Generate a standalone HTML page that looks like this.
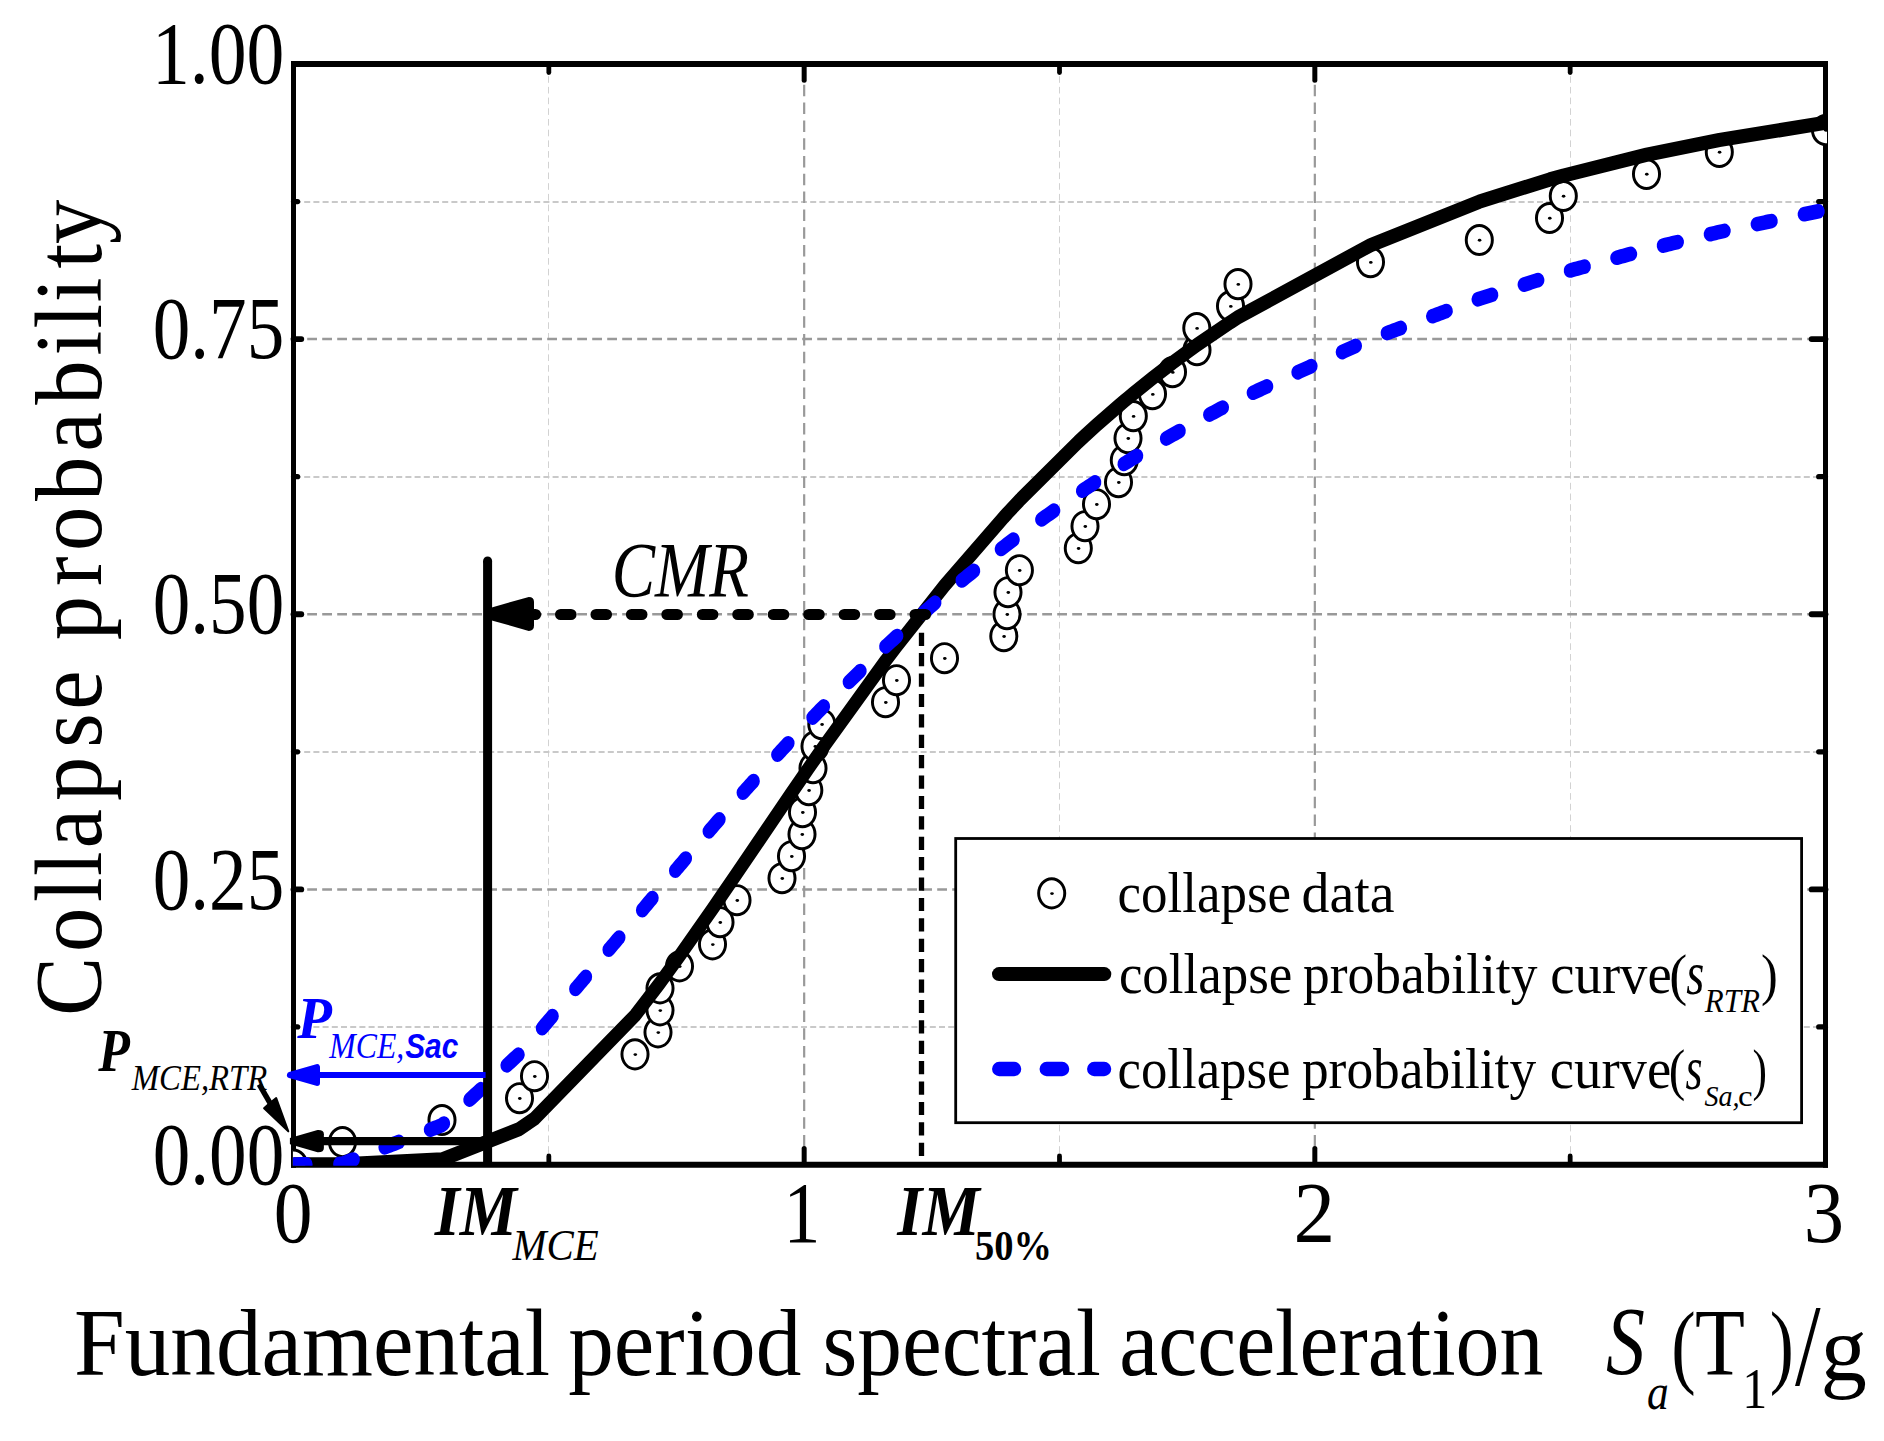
<!DOCTYPE html>
<html lang="en"><head><meta charset="utf-8"><title>Collapse fragility curves</title>
<style>html,body{margin:0;padding:0;background:#fff}body{width:1884px;height:1441px;overflow:hidden}</style></head>
<body>
<svg width="1884" height="1441" viewBox="0 0 1884 1441" style="display:block">
<rect width="1884" height="1441" fill="#fff"/>
<defs><clipPath id="plotclip"><rect x="292.9" y="62.4" width="1534.1" height="1103.3999999999999"/></clipPath><clipPath id="curveclip"><rect x="292.9" y="62.4" width="1534.1" height="1103.3999999999999"/></clipPath></defs>
<g fill="none" stroke-linecap="butt">
<line x1="548.5" y1="67.0" x2="548.5" y2="1161.6" stroke="#d2d2d2" stroke-width="1" stroke-dasharray="6.6 4.1" stroke-dashoffset="1.5"/>
<line x1="1059.5" y1="67.0" x2="1059.5" y2="1161.6" stroke="#d2d2d2" stroke-width="1" stroke-dasharray="6.6 4.1" stroke-dashoffset="1.5"/>
<line x1="1570.5" y1="67.0" x2="1570.5" y2="1161.6" stroke="#d2d2d2" stroke-width="1" stroke-dasharray="6.6 4.1" stroke-dashoffset="1.5"/>
<line x1="296.0" y1="202" x2="1823.0" y2="202" stroke="#c9c9c9" stroke-width="2" stroke-dasharray="6 3.2" stroke-dashoffset="1"/>
<line x1="296.0" y1="477" x2="1823.0" y2="477" stroke="#c9c9c9" stroke-width="2" stroke-dasharray="6 3.2" stroke-dashoffset="1"/>
<line x1="296.0" y1="752" x2="1823.0" y2="752" stroke="#c9c9c9" stroke-width="2" stroke-dasharray="6 3.2" stroke-dashoffset="1"/>
<line x1="296.0" y1="1027" x2="1823.0" y2="1027" stroke="#c9c9c9" stroke-width="2" stroke-dasharray="6 3.2" stroke-dashoffset="1"/>
<line x1="804.17" y1="67.0" x2="804.17" y2="1161.6" stroke="#999" stroke-width="2.2" stroke-dasharray="11.5 6.3" stroke-dashoffset="0"/>
<line x1="1314.83" y1="67.0" x2="1314.83" y2="1161.6" stroke="#999" stroke-width="2.2" stroke-dasharray="11.5 6.3" stroke-dashoffset="0"/>
<line x1="296.0" y1="889.38" x2="1823.0" y2="889.38" stroke="#999" stroke-width="2.5" stroke-dasharray="9.8 5.2" stroke-dashoffset="3.8"/>
<line x1="296.0" y1="614.25" x2="1823.0" y2="614.25" stroke="#999" stroke-width="2.5" stroke-dasharray="9.8 5.2" stroke-dashoffset="3.8"/>
<line x1="296.0" y1="339.12" x2="1823.0" y2="339.12" stroke="#999" stroke-width="2.5" stroke-dasharray="9.8 5.2" stroke-dashoffset="3.8"/>
</g>
<g stroke="#000" fill="none" stroke-linecap="butt">
<line x1="291.0" y1="64.0" x2="1828.0" y2="64.0" stroke-width="6"/>
<line x1="291.0" y1="1164.8" x2="1828.0" y2="1164.8" stroke-width="6"/>
<line x1="293.5" y1="61.0" x2="293.5" y2="1167.8" stroke-width="5"/>
<line x1="1825.5" y1="61.0" x2="1825.5" y2="1167.8" stroke-width="5"/>
<g stroke-linecap="round">
<line x1="804.17" y1="1164.6" x2="804.17" y2="1148.6" stroke-width="5"/>
<line x1="804.17" y1="64.0" x2="804.17" y2="80.2" stroke-width="5"/>
<line x1="1314.83" y1="1164.6" x2="1314.83" y2="1148.6" stroke-width="5"/>
<line x1="1314.83" y1="64.0" x2="1314.83" y2="80.2" stroke-width="5"/>
<line x1="548.83" y1="1164.6" x2="548.83" y2="1156.0" stroke-width="4.8"/>
<line x1="548.83" y1="64.0" x2="548.83" y2="72.6" stroke-width="4.8"/>
<line x1="1059.5" y1="1164.6" x2="1059.5" y2="1156.0" stroke-width="4.8"/>
<line x1="1059.5" y1="64.0" x2="1059.5" y2="72.6" stroke-width="4.8"/>
<line x1="1570.17" y1="1164.6" x2="1570.17" y2="1156.0" stroke-width="4.8"/>
<line x1="1570.17" y1="64.0" x2="1570.17" y2="72.6" stroke-width="4.8"/>
<line x1="293.5" y1="889.38" x2="301.29999999999995" y2="889.38" stroke-width="5.8"/>
<line x1="1825.5" y1="889.38" x2="1811.6" y2="889.38" stroke-width="5.8"/>
<line x1="293.5" y1="614.25" x2="301.29999999999995" y2="614.25" stroke-width="5.8"/>
<line x1="1825.5" y1="614.25" x2="1811.6" y2="614.25" stroke-width="5.8"/>
<line x1="293.5" y1="339.12" x2="301.29999999999995" y2="339.12" stroke-width="5.8"/>
<line x1="1825.5" y1="339.12" x2="1811.6" y2="339.12" stroke-width="5.8"/>
<line x1="293.5" y1="1026.94" x2="297.6" y2="1026.94" stroke-width="5.2"/>
<line x1="1825.5" y1="1026.94" x2="1818.7" y2="1026.94" stroke-width="5.2"/>
<line x1="293.5" y1="751.81" x2="297.6" y2="751.81" stroke-width="5.2"/>
<line x1="1825.5" y1="751.81" x2="1818.7" y2="751.81" stroke-width="5.2"/>
<line x1="293.5" y1="476.69" x2="297.6" y2="476.69" stroke-width="5.2"/>
<line x1="1825.5" y1="476.69" x2="1818.7" y2="476.69" stroke-width="5.2"/>
<line x1="293.5" y1="201.56" x2="297.6" y2="201.56" stroke-width="5.2"/>
<line x1="1825.5" y1="201.56" x2="1818.7" y2="201.56" stroke-width="5.2"/>
</g>
</g>
<g clip-path="url(#plotclip)" stroke="#000" stroke-width="2.95">
<ellipse cx="293.5" cy="1164.5" rx="13.05" ry="14.6" fill="#fff"/><ellipse cx="293.8" cy="1164.8" rx="1.8" ry="1.45" fill="#000" stroke="none"/>
<ellipse cx="342.5" cy="1142" rx="13.05" ry="14.6" fill="#fff"/><ellipse cx="342.8" cy="1142.3" rx="1.8" ry="1.45" fill="#000" stroke="none"/>
<ellipse cx="442" cy="1120" rx="13.05" ry="14.6" fill="#fff"/><ellipse cx="442.3" cy="1120.3" rx="1.8" ry="1.45" fill="#000" stroke="none"/>
<ellipse cx="519.5" cy="1098.2" rx="13.05" ry="14.6" fill="#fff"/><ellipse cx="519.8" cy="1098.5" rx="1.8" ry="1.45" fill="#000" stroke="none"/>
<ellipse cx="534.5" cy="1076.2" rx="13.05" ry="14.6" fill="#fff"/><ellipse cx="534.8" cy="1076.5" rx="1.8" ry="1.45" fill="#000" stroke="none"/>
<ellipse cx="635" cy="1054.3" rx="13.05" ry="14.6" fill="#fff"/><ellipse cx="635.3" cy="1054.6" rx="1.8" ry="1.45" fill="#000" stroke="none"/>
<ellipse cx="658" cy="1032.3" rx="13.05" ry="14.6" fill="#fff"/><ellipse cx="658.3" cy="1032.6" rx="1.8" ry="1.45" fill="#000" stroke="none"/>
<ellipse cx="660" cy="1010.3" rx="13.05" ry="14.6" fill="#fff"/><ellipse cx="660.3" cy="1010.6" rx="1.8" ry="1.45" fill="#000" stroke="none"/>
<ellipse cx="660" cy="988.3" rx="13.05" ry="14.6" fill="#fff"/><ellipse cx="660.3" cy="988.6" rx="1.8" ry="1.45" fill="#000" stroke="none"/>
<ellipse cx="679.5" cy="966.3" rx="13.05" ry="14.6" fill="#fff"/><ellipse cx="679.8" cy="966.6" rx="1.8" ry="1.45" fill="#000" stroke="none"/>
<ellipse cx="712.5" cy="944.3" rx="13.05" ry="14.6" fill="#fff"/><ellipse cx="712.8" cy="944.6" rx="1.8" ry="1.45" fill="#000" stroke="none"/>
<ellipse cx="720" cy="922.2" rx="13.05" ry="14.6" fill="#fff"/><ellipse cx="720.3" cy="922.5" rx="1.8" ry="1.45" fill="#000" stroke="none"/>
<ellipse cx="737" cy="900.2" rx="13.05" ry="14.6" fill="#fff"/><ellipse cx="737.3" cy="900.5" rx="1.8" ry="1.45" fill="#000" stroke="none"/>
<ellipse cx="782" cy="878.2" rx="13.05" ry="14.6" fill="#fff"/><ellipse cx="782.3" cy="878.5" rx="1.8" ry="1.45" fill="#000" stroke="none"/>
<ellipse cx="791.5" cy="856.2" rx="13.05" ry="14.6" fill="#fff"/><ellipse cx="791.8" cy="856.5" rx="1.8" ry="1.45" fill="#000" stroke="none"/>
<ellipse cx="802" cy="834.2" rx="13.05" ry="14.6" fill="#fff"/><ellipse cx="802.3" cy="834.5" rx="1.8" ry="1.45" fill="#000" stroke="none"/>
<ellipse cx="802.5" cy="812.2" rx="13.05" ry="14.6" fill="#fff"/><ellipse cx="802.8" cy="812.5" rx="1.8" ry="1.45" fill="#000" stroke="none"/>
<ellipse cx="808.8" cy="790.2" rx="13.05" ry="14.6" fill="#fff"/><ellipse cx="809.1" cy="790.5" rx="1.8" ry="1.45" fill="#000" stroke="none"/>
<ellipse cx="813" cy="768.2" rx="13.05" ry="14.6" fill="#fff"/><ellipse cx="813.3" cy="768.5" rx="1.8" ry="1.45" fill="#000" stroke="none"/>
<ellipse cx="815" cy="746.2" rx="13.05" ry="14.6" fill="#fff"/><ellipse cx="815.3" cy="746.5" rx="1.8" ry="1.45" fill="#000" stroke="none"/>
<ellipse cx="821.8" cy="724.2" rx="13.05" ry="14.6" fill="#fff"/><ellipse cx="822.1" cy="724.5" rx="1.8" ry="1.45" fill="#000" stroke="none"/>
<ellipse cx="885.5" cy="702.2" rx="13.05" ry="14.6" fill="#fff"/><ellipse cx="885.8" cy="702.5" rx="1.8" ry="1.45" fill="#000" stroke="none"/>
<ellipse cx="896.5" cy="680.2" rx="13.05" ry="14.6" fill="#fff"/><ellipse cx="896.8" cy="680.5" rx="1.8" ry="1.45" fill="#000" stroke="none"/>
<ellipse cx="944.5" cy="658.2" rx="13.05" ry="14.6" fill="#fff"/><ellipse cx="944.8" cy="658.5" rx="1.8" ry="1.45" fill="#000" stroke="none"/>
<ellipse cx="1003.8" cy="636.2" rx="13.05" ry="14.6" fill="#fff"/><ellipse cx="1004.1" cy="636.5" rx="1.8" ry="1.45" fill="#000" stroke="none"/>
<ellipse cx="1007" cy="614.2" rx="13.05" ry="14.6" fill="#fff"/><ellipse cx="1007.3" cy="614.5" rx="1.8" ry="1.45" fill="#000" stroke="none"/>
<ellipse cx="1008" cy="592.2" rx="13.05" ry="14.6" fill="#fff"/><ellipse cx="1008.3" cy="592.5" rx="1.8" ry="1.45" fill="#000" stroke="none"/>
<ellipse cx="1019.4" cy="570.2" rx="13.05" ry="14.6" fill="#fff"/><ellipse cx="1019.7" cy="570.5" rx="1.8" ry="1.45" fill="#000" stroke="none"/>
<ellipse cx="1078.3" cy="548.2" rx="13.05" ry="14.6" fill="#fff"/><ellipse cx="1078.6" cy="548.5" rx="1.8" ry="1.45" fill="#000" stroke="none"/>
<ellipse cx="1085" cy="526.2" rx="13.05" ry="14.6" fill="#fff"/><ellipse cx="1085.3" cy="526.5" rx="1.8" ry="1.45" fill="#000" stroke="none"/>
<ellipse cx="1096.5" cy="504.2" rx="13.05" ry="14.6" fill="#fff"/><ellipse cx="1096.8" cy="504.5" rx="1.8" ry="1.45" fill="#000" stroke="none"/>
<ellipse cx="1118.5" cy="482.2" rx="13.05" ry="14.6" fill="#fff"/><ellipse cx="1118.8" cy="482.5" rx="1.8" ry="1.45" fill="#000" stroke="none"/>
<ellipse cx="1124.3" cy="460.2" rx="13.05" ry="14.6" fill="#fff"/><ellipse cx="1124.6" cy="460.5" rx="1.8" ry="1.45" fill="#000" stroke="none"/>
<ellipse cx="1128" cy="438.2" rx="13.05" ry="14.6" fill="#fff"/><ellipse cx="1128.3" cy="438.5" rx="1.8" ry="1.45" fill="#000" stroke="none"/>
<ellipse cx="1133.3" cy="416.1" rx="13.05" ry="14.6" fill="#fff"/><ellipse cx="1133.6" cy="416.4" rx="1.8" ry="1.45" fill="#000" stroke="none"/>
<ellipse cx="1152.5" cy="394.1" rx="13.05" ry="14.6" fill="#fff"/><ellipse cx="1152.8" cy="394.4" rx="1.8" ry="1.45" fill="#000" stroke="none"/>
<ellipse cx="1172.5" cy="372.1" rx="13.05" ry="14.6" fill="#fff"/><ellipse cx="1172.8" cy="372.4" rx="1.8" ry="1.45" fill="#000" stroke="none"/>
<ellipse cx="1197" cy="350.1" rx="13.05" ry="14.6" fill="#fff"/><ellipse cx="1197.3" cy="350.4" rx="1.8" ry="1.45" fill="#000" stroke="none"/>
<ellipse cx="1196.8" cy="328.1" rx="13.05" ry="14.6" fill="#fff"/><ellipse cx="1197.1" cy="328.4" rx="1.8" ry="1.45" fill="#000" stroke="none"/>
<ellipse cx="1230.5" cy="306.1" rx="13.05" ry="14.6" fill="#fff"/><ellipse cx="1230.8" cy="306.4" rx="1.8" ry="1.45" fill="#000" stroke="none"/>
<ellipse cx="1238" cy="284.1" rx="13.05" ry="14.6" fill="#fff"/><ellipse cx="1238.3" cy="284.4" rx="1.8" ry="1.45" fill="#000" stroke="none"/>
<ellipse cx="1370.5" cy="262.1" rx="13.05" ry="14.6" fill="#fff"/><ellipse cx="1370.8" cy="262.4" rx="1.8" ry="1.45" fill="#000" stroke="none"/>
<ellipse cx="1479.3" cy="240" rx="13.05" ry="14.6" fill="#fff"/><ellipse cx="1479.6" cy="240.3" rx="1.8" ry="1.45" fill="#000" stroke="none"/>
<ellipse cx="1549.5" cy="218" rx="13.05" ry="14.6" fill="#fff"/><ellipse cx="1549.8" cy="218.3" rx="1.8" ry="1.45" fill="#000" stroke="none"/>
<ellipse cx="1563.3" cy="196" rx="13.05" ry="14.6" fill="#fff"/><ellipse cx="1563.6" cy="196.3" rx="1.8" ry="1.45" fill="#000" stroke="none"/>
<ellipse cx="1646.5" cy="174" rx="13.05" ry="14.6" fill="#fff"/><ellipse cx="1646.8" cy="174.3" rx="1.8" ry="1.45" fill="#000" stroke="none"/>
<ellipse cx="1719.3" cy="152" rx="13.05" ry="14.6" fill="#fff"/><ellipse cx="1719.6" cy="152.3" rx="1.8" ry="1.45" fill="#000" stroke="none"/>
<ellipse cx="1825.5" cy="130" rx="13.05" ry="14.6" fill="#fff"/><ellipse cx="1825.8" cy="130.3" rx="1.8" ry="1.45" fill="#000" stroke="none"/>
</g>
<g clip-path="url(#curveclip)"><polyline transform="scale(1 1.15)" points="293.5,1012.61 342.5,1012.61 442,1008.24 519.5,981.69 534.5,972.74 635,883.07 658,856.93 660,854.59 679.5,831.3 712.5,790.38 720,780.89 737,759.25 782,701.68 791.5,689.59 802,676.3 802.5,675.67 808.8,667.73 813,662.46 815,659.96 821.8,651.47 885.5,574.72 896.5,562.06 944.5,509.22 1003.8,449.72 1007,446.7 1008,445.76 1019.4,435.16 1078.3,384.24 1085,378.84 1096.5,369.77 1118.5,353.06 1124.3,348.79 1128,346.1 1133.3,342.28 1152.5,328.84 1172.5,315.47 1196.8,300.06 1197,299.94 1230.5,280.14 1238,275.93 1370.5,213.19 1479.3,175.41 1549.5,156.11 1563.3,152.72 1646.5,134.64 1719.3,121.72 1825.5,106.74 1835.71,105.5" fill="none" stroke="#000" stroke-width="12.43" stroke-linejoin="round" stroke-linecap="butt"/></g>
<g clip-path="url(#curveclip)"><g transform="scale(1 1.15)" fill="none" stroke="#0000ff" stroke-width="12.7" stroke-linecap="round" stroke-linejoin="round">
<polyline points="293.5,1012.61 295.5,1012.58 297.5,1012.55 299.5,1012.52 301.5,1012.5 303.5,1012.47 305.5,1012.44 306.25,1012.43"/>
<polyline points="339.5,1011.97 342,1011.93 344.37,1011.29 346.7,1010.51 349.04,1009.72 351.38,1008.93 353.48,1008.22"/>
<polyline points="384.78,997.68 387.11,996.89 389.45,996.1 391.78,995.32 394.12,994.53 396.45,993.74 398.79,992.96"/>
<polyline points="430.09,982.41 432.42,981.62 434.76,980.84 437.1,980.05 439.43,979.26 441.77,978.48 443.66,977.07 443.84,976.92"/>
<polyline points="469.61,956.24 471.45,954.76 473.29,953.28 475.14,951.81 476.98,950.33 478.82,948.85 480.66,947.37 481.03,947.08"/>
<polyline points="506.8,926.4 508.64,924.92 510.48,923.44 512.32,921.96 514.16,920.49 516,919.01 517.84,917.53 518.4,917.09"/>
<polyline points="542.11,894.14 543.72,892.49 545.34,890.83 546.96,889.17 548.58,887.51 550.2,885.85 551.82,884.2 552.46,883.53"/>
<polyline points="575.44,859.99 577.06,858.34 578.68,856.68 580.3,855.02 581.92,853.36 583.54,851.7 585.15,850.05 585.8,849.38"/>
<polyline points="608.78,825.84 610.4,824.18 612.02,822.53 613.64,820.87 615.26,819.21 616.87,817.55 618.49,815.89 619.14,815.23"/>
<polyline points="642.24,791.44 643.85,789.76 645.45,788.08 647.06,786.4 648.67,784.73 650.28,783.05 651.89,781.37 652.37,780.87"/>
<polyline points="675.31,757.1 676.92,755.44 678.53,753.77 680.15,752.11 681.79,750.45 683.42,748.79 685.05,747.13 685.71,746.47"/>
<polyline points="708.91,722.91 710.54,721.25 712.17,719.59 713.83,717.93 715.5,716.26 717.17,714.6 718.83,712.93 719.33,712.43"/>
<polyline points="742.9,689.35 744.58,687.74 746.27,686.13 747.96,684.52 749.64,682.91 751.33,681.3 753.01,679.69 753.52,679.21"/>
<polyline points="777.45,656.35 779.13,654.74 780.82,653.13 782.52,651.53 784.25,649.93 785.97,648.33 787.7,646.74 788.22,646.26"/>
<polyline points="812.65,624.06 814.45,622.44 816.25,620.85 818.04,619.26 819.83,617.67 821.62,616.09 823.42,614.56 823.78,614.26"/>
<polyline points="848.97,593.02 850.77,591.5 852.57,589.98 854.37,588.46 856.17,586.95 857.97,585.43 859.77,583.91 860.31,583.46"/>
<polyline points="885.5,562.21 887.36,560.73 889.23,559.24 891.09,557.75 892.96,556.27 894.82,554.78 896.69,553.3 897.06,553.01"/>
<polyline points="923.42,532.95 925.3,531.52 927.18,530.09 929.06,528.66 930.95,527.22 932.83,525.79 934.71,524.36 935.09,524.07"/>
<polyline points="961.86,504.79 963.81,503.43 965.76,502.07 967.71,500.71 969.66,499.35 971.61,497.99 973.56,496.63 973.95,496.36"/>
<polyline points="1001.07,477.44 1003.02,476.08 1005,474.74 1007,473.41 1009,472.1 1011,470.79 1013,469.49 1013.4,469.23"/>
<polyline points="1041.49,451.72 1043.53,450.46 1045.58,449.2 1047.62,447.94 1049.67,446.68 1051.71,445.42 1053.76,444.17 1053.96,444.04"/>
<polyline points="1082.28,426.75 1084.37,425.53 1086.46,424.33 1088.55,423.13 1090.65,421.94 1092.74,420.74 1094.83,419.54 1095.04,419.42"/>
<polyline points="1123.87,403.43 1126.04,402.26 1128.22,401.09 1130.43,399.91 1132.64,398.73 1134.81,397.58 1136.97,396.45"/>
<polyline points="1166.2,381.4 1168.37,380.3 1170.54,379.2 1172.72,378.11 1174.91,377.04 1177.1,375.98 1179.29,374.91 1179.51,374.8"/>
<polyline points="1209.42,360.54 1211.64,359.52 1213.86,358.49 1216.08,357.46 1218.3,356.44 1220.52,355.41 1222.74,354.39"/>
<polyline points="1253.03,341.49 1255.3,340.58 1257.58,339.68 1259.86,338.78 1262.13,337.88 1264.41,336.97 1266.69,336.07 1266.91,335.98"/>
<polyline points="1297.65,323.8 1299.92,322.89 1302.2,321.99 1304.48,321.09 1306.75,320.19 1309.03,319.28 1311.31,318.38"/>
<polyline points="1342.04,306.2 1344.32,305.29 1346.6,304.39 1348.87,303.49 1351.15,302.59 1353.43,301.68 1355.7,300.78"/>
<polyline points="1386.91,289.63 1389.26,288.87 1391.6,288.12 1393.95,287.36 1396.29,286.6 1398.64,285.85 1400.75,285.17"/>
<polyline points="1432.4,274.97 1434.75,274.21 1437.09,273.46 1439.44,272.7 1441.78,271.95 1444.13,271.19 1446.47,270.44"/>
<polyline points="1477.89,260.31 1480.26,259.59 1482.64,258.93 1485.03,258.27 1487.42,257.61 1489.81,256.95 1491.96,256.35"/>
<polyline points="1523.95,247.5 1526.34,246.83 1528.73,246.17 1531.11,245.51 1533.5,244.85 1535.89,244.19 1538.04,243.59"/>
<polyline points="1570.05,235.25 1572.46,234.68 1574.88,234.1 1577.29,233.53 1579.7,232.95 1582.11,232.38 1584.52,231.8"/>
<polyline points="1616.6,224.15 1619.01,223.58 1621.42,223 1623.83,222.43 1626.24,221.85 1628.65,221.28 1630.82,220.76"/>
<polyline points="1663.06,213.55 1665.49,213.04 1667.93,212.53 1670.36,212.01 1672.8,211.5 1675.23,210.99 1677.67,210.48"/>
<polyline points="1710.05,203.68 1712.48,203.17 1714.92,202.66 1717.35,202.15 1719.79,201.65 1722.24,201.2 1724.44,200.8"/>
<polyline points="1756.98,194.88 1759.43,194.43 1761.88,193.98 1764.32,193.54 1766.77,193.09 1769.22,192.65 1771.42,192.25"/>
<polyline points="1803.97,186.32 1806.41,185.87 1808.86,185.43 1811.31,184.98 1813.75,184.54 1816.2,184.09 1818.4,183.69"/>
</g></g>
<g stroke="#000" fill="none">
<line x1="487.6" y1="1166.6" x2="487.6" y2="561" stroke-width="9" stroke-linecap="butt"/><circle cx="487.6" cy="561" r="4.5" fill="#000" stroke="none"/>
<path d="M921.5 632.7V645.9M921.5 653.1V666.3M921.5 673.5V686.7M921.5 693.9V707.1M921.5 714.3V727.5M921.5 734.7V747.9M921.5 755.1V768.3M921.5 775.5V788.7M921.5 795.9V809.1M921.5 816.3V829.5M921.5 836.7V849.9M921.5 857.1V870.3M921.5 877.5V890.7M921.5 897.9V911.1M921.5 918.3V931.5M921.5 938.7V951.9M921.5 959.1V972.3M921.5 979.5V992.7M921.5 999.9V1013.1M921.5 1020.3V1033.5M921.5 1040.7V1053.9M921.5 1061.1V1074.3M921.5 1081.5V1094.7M921.5 1101.9V1115.1M921.5 1122.3V1135.5M921.5 1142.7V1155.9" stroke-width="5.3" stroke-linecap="butt"/>
<path d="M915.1 614.5H925.5M879.65 614.5H890.05M844.2 614.5H854.6M808.75 614.5H819.15M773.3 614.5H783.7M737.85 614.5H748.25M702.4 614.5H712.8M666.95 614.5H677.35M631.5 614.5H641.9M596.05 614.5H606.45M560.6 614.5H571M534 614.5H535.55" stroke-width="11.2" stroke-linecap="round"/>
</g>
<path d="M490,607.9L528.8,596.9Q534,596.9 534,602V625.8Q534,630.9 528.8,630.9L490,620Z" fill="#000"/>
<line x1="318" y1="1075" x2="485.6" y2="1075" stroke="#0000ff" stroke-width="6" stroke-linecap="butt"/>
<polygon points="289.9,1075 317,1067.1 317,1082.9" fill="#0000ff" stroke="#0000ff" stroke-width="6" stroke-linejoin="round"/>
<line x1="323" y1="1141.1" x2="487" y2="1141.1" stroke="#000" stroke-width="8.3" stroke-linecap="butt"/>
<path d="M289.9,1138L317.5,1130Q323.9,1129.7 323.9,1134.2V1148Q323.9,1152.5 317.5,1152.2L289.9,1144.2Z" fill="#000"/>
<line x1="259.2" y1="1084.4" x2="270.2" y2="1103.4" stroke="#000" stroke-width="5.4" stroke-linecap="butt"/>
<polygon points="288.3,1131.4 264.1,1108.3 269.6,1103.2 276.2,1098.1" fill="#000" stroke="#000" stroke-width="2" stroke-linejoin="round"/>
<rect x="955.7" y="838.5" width="845.9" height="284.2" fill="#fff" stroke="#000" stroke-width="2.8"/>
<ellipse cx="1051.7" cy="893.3" rx="13.05" ry="14.6" fill="#fff" stroke="#000" stroke-width="2.95"/><ellipse cx="1052" cy="893.6" rx="1.8" ry="1.45" fill="#000"/>
<line x1="999" y1="974.1" x2="1104.3" y2="974.1" stroke="#000" stroke-width="14" stroke-linecap="round"/>
<path d="M999.2 1069H1014.1M1046.7 1069H1062.1M1094.2 1069H1104.1" stroke="#0000ff" stroke-width="14.3" stroke-linecap="round" fill="none"/>
<g font-size="100">
<text transform="matrix(0.7568 0 0 0.8806 151.89 82.90)" style='font-family:"Liberation Serif", serif'>1.00</text>
<text transform="matrix(0.7521 0 0 0.8806 152.69 357.90)" style='font-family:"Liberation Serif", serif'>0.75</text>
<text transform="matrix(0.7521 0 0 0.8806 152.69 632.90)" style='font-family:"Liberation Serif", serif'>0.50</text>
<text transform="matrix(0.7521 0 0 0.8806 152.69 908.70)" style='font-family:"Liberation Serif", serif'>0.25</text>
<text transform="matrix(0.7521 0 0 0.8806 152.69 1183.90)" style='font-family:"Liberation Serif", serif'>0.00</text>
<text transform="matrix(0.7762 0 0 0.8760 273.70 1241.60)" style='font-family:"Liberation Serif", serif'>0</text>
<text transform="matrix(0.7371 0 0 0.8760 783.57 1241.60)" style='font-family:"Liberation Serif", serif'>1</text>
<text transform="matrix(0.8325 0 0 0.8760 1293.57 1241.60)" style='font-family:"Liberation Serif", serif'>2</text>
<text transform="matrix(0.8073 0 0 0.8760 1803.86 1241.60)" style='font-family:"Liberation Serif", serif'>3</text>
<text transform="matrix(0.6432 0 0 0.7262 434.64 1235.40)" style='font-family:"Liberation Serif", serif;font-style:italic;font-weight:bold'>IM</text>
<text transform="matrix(0.6439 0 0 0.7262 897.34 1235.40)" style='font-family:"Liberation Serif", serif;font-style:italic;font-weight:bold'>IM</text>
<text transform="matrix(0.4086 0 0 0.4379 512.51 1259.96)" style='font-family:"Liberation Serif", serif;font-style:italic'>MCE</text>
<text transform="matrix(0.3856 0 0 0.4194 975.06 1260.46)" style='font-family:"Liberation Serif", serif;font-weight:bold'>50%</text>
<text transform="matrix(0.6502 0 0 0.7773 611.70 596.02)" style='font-family:"Liberation Serif", serif;font-style:italic'>CMR</text>
<text transform="matrix(0.5677 0 0 0.5985 297.20 1038.00)" style='font-family:"Liberation Serif", serif;font-style:italic;font-weight:bold' fill="#0000ff">P</text>
<text transform="matrix(0.3173 0 0 0.3663 329.32 1057.91)" style='font-family:"Liberation Serif", serif;font-style:italic' fill="#0000ff">MCE,</text>
<text transform="matrix(0.2983 0 0 0.3535 405.20 1057.65)" style='font-family:"Liberation Sans", sans-serif;font-style:italic;font-weight:bold' fill="#0000ff">Sac</text>
<text transform="matrix(0.5177 0 0 0.6138 98.30 1070.90)" style='font-family:"Liberation Serif", serif;font-style:italic;font-weight:bold'>P</text>
<text transform="matrix(0.3276 0 0 0.3500 131.83 1090.25)" style='font-family:"Liberation Serif", serif;font-style:italic'>MCE,RTR</text>
<text transform="matrix(0.9122 0 0 0.9522 73.96 1374.80)" style='font-family:"Liberation Serif", serif'>Fundamental</text>
<text transform="matrix(0.9127 0 0 0.9522 568.17 1374.80)" style='font-family:"Liberation Serif", serif'>period</text>
<text transform="matrix(0.8961 0 0 0.9522 822.42 1374.80)" style='font-family:"Liberation Serif", serif'>spectral</text>
<text transform="matrix(0.8784 0 0 0.9522 1119.19 1374.80)" style='font-family:"Liberation Serif", serif'>acceleration</text>
<text transform="matrix(0.7787 0 0 0.9776 1605.92 1374.34)" style='font-family:"Liberation Serif", serif;font-style:italic'>S</text>
<text transform="matrix(0.4349 0 0 0.5042 1647.00 1408.70)" style='font-family:"Liberation Serif", serif;font-style:italic'>a</text>
<text transform="matrix(0.7346 0 0 0.9389 1671.26 1375.58)" style='font-family:"Liberation Serif", serif'>(</text>
<text transform="matrix(0.8175 0 0 0.9585 1695.06 1375.30)" style='font-family:"Liberation Serif", serif'>T</text>
<text transform="matrix(0.5000 0 0 0.5803 1742.20 1408.30)" style='font-family:"Liberation Serif", serif'>1</text>
<text transform="matrix(0.7231 0 0 0.9389 1769.83 1375.58)" style='font-family:"Liberation Serif", serif'>)</text>
<text transform="matrix(0.9214 0 0 1.1606 1795.00 1384.64)" style='font-family:"Liberation Serif", serif'>/</text>
<text transform="matrix(0.9273 0 0 0.9315 1820.49 1380.44)" style='font-family:"Liberation Serif", serif'>g</text>
<text transform="matrix(0.5297 0 0 0.5797 1117.58 912.30)" style='font-family:"Liberation Serif", serif'>collapse</text>
<text transform="matrix(0.5590 0 0 0.5797 1301.56 912.30)" style='font-family:"Liberation Serif", serif'>data</text>
<text transform="matrix(0.5294 0 0 0.5797 1118.88 993.30)" style='font-family:"Liberation Serif", serif'>collapse</text>
<text transform="matrix(0.5344 0 0 0.5797 1302.93 993.30)" style='font-family:"Liberation Serif", serif'>probability</text>
<text transform="matrix(0.5465 0 0 0.5797 1550.31 993.30)" style='font-family:"Liberation Serif", serif'>curve</text>
<text transform="matrix(0.5275 0 0 0.5797 1117.59 1088.00)" style='font-family:"Liberation Serif", serif'>collapse</text>
<text transform="matrix(0.5337 0 0 0.5797 1301.93 1088.00)" style='font-family:"Liberation Serif", serif'>probability</text>
<text transform="matrix(0.5465 0 0 0.5797 1549.81 1088.00)" style='font-family:"Liberation Serif", serif'>curve</text>
<text transform="matrix(0.5385 0 0 0.5678 1669.35 993.68)" style='font-family:"Liberation Serif", serif'>(</text>
<text transform="matrix(0.4629 0 0 0.6029 1686.34 993.60)" style='font-family:"Liberation Serif", serif;font-style:italic'>s</text>
<text transform="matrix(0.3108 0 0 0.3462 1704.70 1012.30)" style='font-family:"Liberation Serif", serif;font-style:italic'>RTR</text>
<text transform="matrix(0.5038 0 0 0.5678 1760.89 993.68)" style='font-family:"Liberation Serif", serif'>)</text>
<text transform="matrix(0.4962 0 0 0.5689 1668.72 1088.65)" style='font-family:"Liberation Serif", serif'>(</text>
<text transform="matrix(0.4371 0 0 0.6029 1685.56 1088.60)" style='font-family:"Liberation Serif", serif;font-style:italic'>s</text>
<text transform="matrix(0.2805 0 0 0.2875 1704.42 1105.59)" style='font-family:"Liberation Serif", serif;font-style:italic'>Sa,</text>
<text transform="matrix(0.3297 0 0 0.2875 1737.88 1105.51)" style='font-family:"Liberation Serif", serif'>c</text>
<text transform="matrix(0.4346 0 0 0.5689 1752.60 1088.65)" style='font-family:"Liberation Serif", serif'>)</text>
<text transform="matrix(0 -0.8850 0.9594 0 101.20 1013.40)" x="-2.84 69.29 126 155.32 186.67 239.95 300.1 343.04 402.15 421.76 482.94 522.4 578.92 634.86 687.73 743.34 774.02 803.68 841.76 869.25" y="0" style='font-family:"Liberation Serif", serif'>Collapse probability</text>
</g>
</svg>
</body></html>
